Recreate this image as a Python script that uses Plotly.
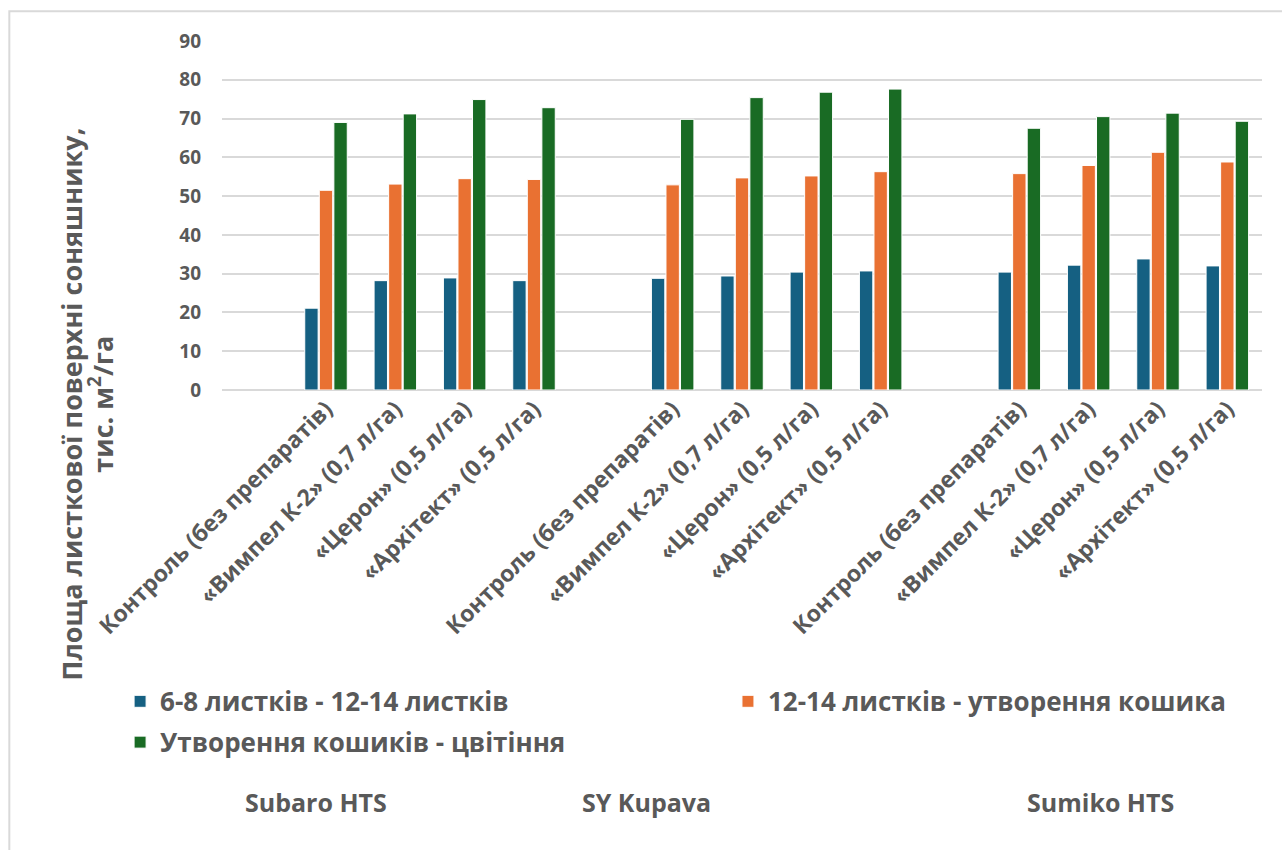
import plotly.graph_objects as go

# ---- data ----
hybrids = ["Subaro HTS", "SY Kupava", "Sumiko HTS"]
treatments = [
    "Контроль (без препаратів)",
    "«Вимпел К-2» (0,7 л/га)",
    "«Церон» (0,5 л/га)",
    "«Архітект» (0,5 л/га)",
]
series_names = [
    "6-8 листків - 12-14 листків",
    "12-14 листків - утворення кошика",
    "Утворення кошиків - цвітіння",
]
s1 = [21.1, 28.2, 28.9, 28.2,  28.8, 29.4, 30.4, 30.7,  30.4, 32.2, 33.8, 32.0]
s2 = [51.5, 53.1, 54.5, 54.3,  52.9, 54.7, 55.2, 56.3,  55.8, 57.9, 61.3, 58.8]
s3 = [69.0, 71.2, 74.9, 72.8,  69.8, 75.4, 76.8, 77.6,  67.5, 70.5, 71.4, 69.3]
colors = ["#156082", "#E97132", "#196B24"]
legend_ids = ["legend", "legend2", "legend"]
y_ticks = [0, 10, 20, 30, 40, 50, 60, 70, 80, 90]
y_title_lines = ["Площа листкової поверхні соняшнику,", "тис. м<sup>2</sup>/га"]

# category slots: each hybrid group preceded by one empty slot
slot_labels = []
x_pos = []
for gi, h in enumerate(hybrids):
    slot_labels.append(" " * (gi + 1))
    for t in treatments:
        x_pos.append(len(slot_labels))
        slot_labels.append(t)

TXT = "#595959"
FONT = "Open Sans"

fig = go.Figure()
for i, (name, vals, c, lg) in enumerate(zip(series_names, [s1, s2, s3], colors, legend_ids)):
    fig.add_trace(go.Bar(
        x=x_pos, y=vals, name=name, legend=lg, legendgroup=f"g{i}",
        marker=dict(color=c, line=dict(color="white", width=1)),
    ))

legend_font = dict(family=FONT, size=26, color=TXT, weight="bold")
fig.update_layout(
    width=1282, height=850,
    margin=dict(l=222, r=20, t=41, b=460),
    paper_bgcolor="white", plot_bgcolor="white",
    barmode="group", bargap=0.37, bargroupgap=0.08,
    font=dict(family=FONT, color=TXT),
    showlegend=True,
    legend=dict(
        orientation="v", x=-0.098, xanchor="left", y=-0.825, yanchor="top",
        font=legend_font, traceorder="grouped", tracegroupgap=4,
        bgcolor="rgba(0,0,0,0)",
    ),
    legend2=dict(
        orientation="v", x=0.4865, xanchor="left", y=-0.825, yanchor="top",
        font=legend_font, bgcolor="rgba(0,0,0,0)",
    ),
)
fig.update_xaxes(
    range=[-0.5, len(slot_labels) - 0.5],
    tickmode="array", tickvals=list(range(len(slot_labels))), ticktext=slot_labels,
    tickangle=-45, tickfont=dict(family=FONT, size=23, color=TXT, weight="bold"),
    showgrid=False, showline=False, ticks="", zeroline=False,
)
fig.update_yaxes(
    range=[0, 90], tickvals=y_ticks,
    tickfont=dict(family=FONT, size=19, color=TXT, weight="bold"),
    showgrid=True, gridcolor="#D9D9D9", gridwidth=1.5,
    zeroline=True, zerolinecolor="#D9D9D9", zerolinewidth=1.5,
    ticks="", ticklabelstandoff=20,
)

# y-axis title as two rotated annotation lines
for line, lx in zip(y_title_lines, [-0.1442, -0.1163]):
    fig.add_annotation(
        text=f"<b>{line}</b>",
        xref="paper", yref="paper", x=lx, y=-0.042,
        xanchor="center", yanchor="middle", textangle=-90, showarrow=False,
        font=dict(family=FONT, size=27, color=TXT),
    )

# hybrid group labels
group_x = [0.09, 0.408, 0.845]
for h, gx in zip(hybrids, group_x):
    fig.add_annotation(
        text=f"<b>{h}</b>", xref="paper", yref="paper", x=gx, y=-1.18,
        xanchor="center", yanchor="middle", showarrow=False,
        font=dict(family=FONT, size=25, color=TXT),
    )

# chart border (top and left visible)
fig.add_shape(type="rect", xref="paper", yref="paper",
              x0=-0.2045, x1=1.1, y0=1.085, y1=-1.5,
              line=dict(color="#D9D9D9", width=2), fillcolor="rgba(0,0,0,0)",
              layer="below")

fig.write_html("out.html")
